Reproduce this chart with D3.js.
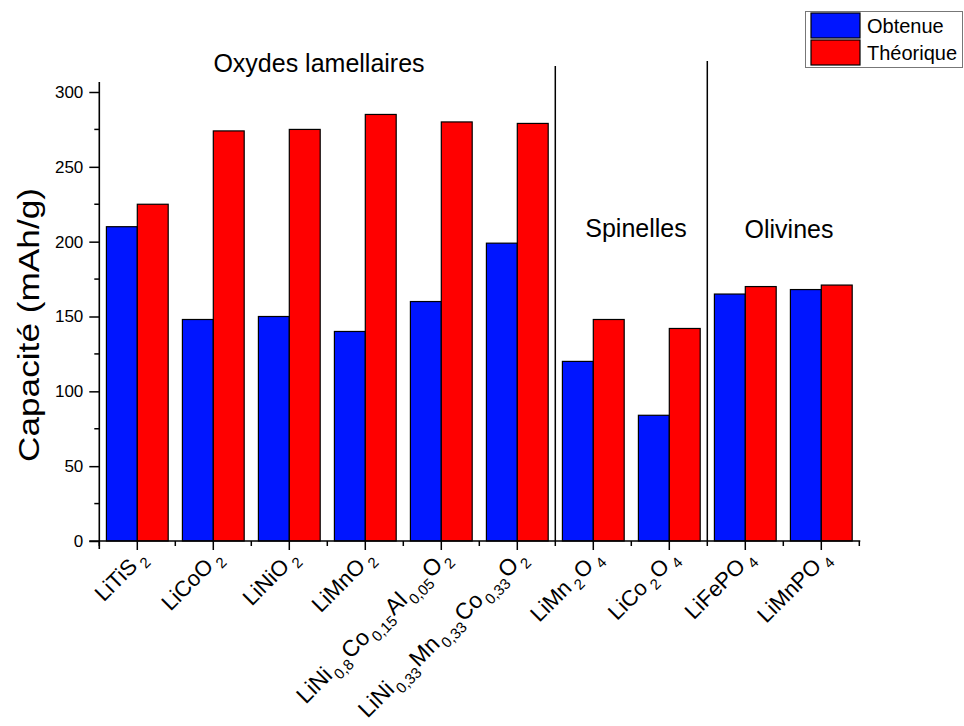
<!DOCTYPE html>
<html><head><meta charset="utf-8">
<script src="https://cdn.jsdelivr.net/npm/d3@7/dist/d3.min.js"></script>
<style>body{margin:0;background:#fff}svg{font-family:"Liberation Sans",Arial,sans-serif}</style>
</head><body><svg id="c" width="964" height="726"></svg>
<script>
const categories = ["LiTiS2","LiCoO2","LiNiO2","LiMnO2","NCA","NMC","LiMn2O4","LiCo2O4","LiFePO4","LiMnPO4"];
// label parts: [text, isSubscript]
const labelParts = [
  [["LiTiS",0],["2",1]],
  [["LiCoO",0],["2",1]],
  [["LiNiO",0],["2",1]],
  [["LiMnO",0],["2",1]],
  [["LiNi",0],["0,8",1],["Co",0],["0,15",1],["Al",0],["0,05",1],["O",0],["2",1]],
  [["LiNi",0],["0,33",1],["Mn",0],["0,33",1],["Co",0],["0,33",1],["O",0],["2",1]],
  [["LiMn",0],["2",1],["O",0],["4",1]],
  [["LiCo",0],["2",1],["O",0],["4",1]],
  [["LiFePO",0],["4",1]],
  [["LiMnPO",0],["4",1]]
];
const obtenue = [210,148,150,140,160,199,120,84,165,168];
const theorique = [225,274,275,285,280,279,148,142,170,171];
const seriesNames = ["Obtenue","Théorique"];
const seriesColors = ["#0015ff","#ff0000"];
const yTicks = [0,50,100,150,200,250,300];
const groups = [
  {name:"Oxydes lamellaires", from:0, to:6},
  {name:"Spinelles", from:6, to:8},
  {name:"Olivines", from:8, to:10}
];

const svg = d3.select("#c");
const x0 = 99.3, x1 = 859.3, yb = 541, yt = 92;
const x = d3.scaleBand().domain(categories).range([x0,x1]).paddingInner(0).paddingOuter(0);
const xs = d3.scaleBand().domain([0,1]).range([0,x.bandwidth()]).paddingInner(0).paddingOuter(0.23);
const y = d3.scaleLinear().domain([0,300]).range([yb,yt]);

// bars
const data = [obtenue, theorique];
categories.forEach((c,i)=>{
  data.forEach((arr,s)=>{
    svg.append("rect")
      .attr("x", x(c)+xs(s)).attr("y", y(arr[i]))
      .attr("width", xs.bandwidth()).attr("height", y(0)-y(arr[i]))
      .attr("fill", seriesColors[s]).attr("stroke","#000").attr("stroke-width",1.2);
  });
});

// separators
const sepTops = [66,61];
[6,8].forEach((k,j)=>{
  const sx = x0 + k*x.step();
  svg.append("line").attr("x1",sx).attr("x2",sx).attr("y1",sepTops[j]).attr("y2",yb)
    .attr("stroke","#000").attr("stroke-width",1.5);
});

// y axis
const yAxis = d3.axisLeft(y).tickValues(yTicks).tickSize(10).tickPadding(6);
const gy = svg.append("g").attr("transform",`translate(${x0},0)`).call(yAxis);
gy.select(".domain").remove();
gy.selectAll(".tick line").attr("stroke","#000").attr("stroke-width",1.5);
gy.selectAll(".tick text").attr("font-size",17).attr("fill","#000").attr("font-family","Liberation Sans, Arial");
// minor ticks
const minor = d3.range(25,300,50);
gy.selectAll(".minor").data(minor).enter().append("line")
  .attr("x1",-5).attr("x2",0).attr("y1",d=>y(d)).attr("y2",d=>y(d))
  .attr("stroke","#000").attr("stroke-width",1.5);
svg.append("line").attr("x1",x0).attr("x2",x0).attr("y1",82).attr("y2",yb+8).attr("stroke","#000").attr("stroke-width",1.6);

// x axis
svg.append("line").attr("x1",x0-10).attr("x2",x1+1).attr("y1",yb).attr("y2",yb).attr("stroke","#000").attr("stroke-width",1.6);
categories.forEach((c,i)=>{
  const cx = x(c)+x.bandwidth()/2;
  svg.append("line").attr("x1",cx).attr("x2",cx).attr("y1",yb).attr("y2",yb+9).attr("stroke","#000").attr("stroke-width",1.5);
});
for(let k=0;k<=10;k++){
  const mx = x0 + k*x.step();
  svg.append("line").attr("x1",mx).attr("x2",mx).attr("y1",yb).attr("y2",yb+5).attr("stroke","#000").attr("stroke-width",1.5);
}

// x labels
categories.forEach((c,i)=>{
  const cx = x(c)+x.bandwidth()/2;
  const big = labelParts[i].length > 4;
  const fs = big ? 23 : 22, sfs = big ? 15 : 15, sh = big ? 7 : 6;
  const t = svg.append("text")
    .attr("transform",`translate(${cx+10},${yb+18}) rotate(-45)`)
    .attr("text-anchor","end").attr("font-size",fs).attr("fill","#000");
  let prevSub = false;
  labelParts[i].forEach(([s,sub])=>{
    const ts = t.append("tspan").text(s);
    if(sub){ ts.attr("font-size",sfs).attr("dx",big?2:4).attr("dy", prevSub?0:sh); }
    else { ts.attr("dy", prevSub?-sh:0).attr("dx", prevSub?1:0); }
    prevSub = !!sub;
  });
});

// group labels
const gpos = [{cx:319,y:72},{cx:636,y:237},{cx:789,y:238}];
groups.forEach((g,j)=>{
  svg.append("text").attr("x",gpos[j].cx).attr("y",gpos[j].y).attr("text-anchor","middle")
    .attr("font-size",25).attr("fill","#000").text(g.name);
});

// y title
svg.append("text").attr("transform","translate(38.5,325) rotate(-90)").attr("text-anchor","middle")
  .attr("font-size",30).attr("fill","#000")
  .attr("textLength",274).attr("lengthAdjust","spacingAndGlyphs").text("Capacité (mAh/g)");

// legend
const lg = svg.append("g");
lg.append("rect").attr("x",805.5).attr("y",11.5).attr("width",157).attr("height",56).attr("fill","#fff").attr("stroke","#777").attr("stroke-width",1);
seriesNames.forEach((n,s)=>{
  lg.append("rect").attr("x",811).attr("y",13+s*27).attr("width",49).attr("height",25)
    .attr("fill",seriesColors[s]).attr("stroke","#000").attr("stroke-width",1.2);
  lg.append("text").attr("x",867).attr("y",33+s*27).attr("font-size",20).attr("fill","#000").text(n);
});
</script></body></html>
